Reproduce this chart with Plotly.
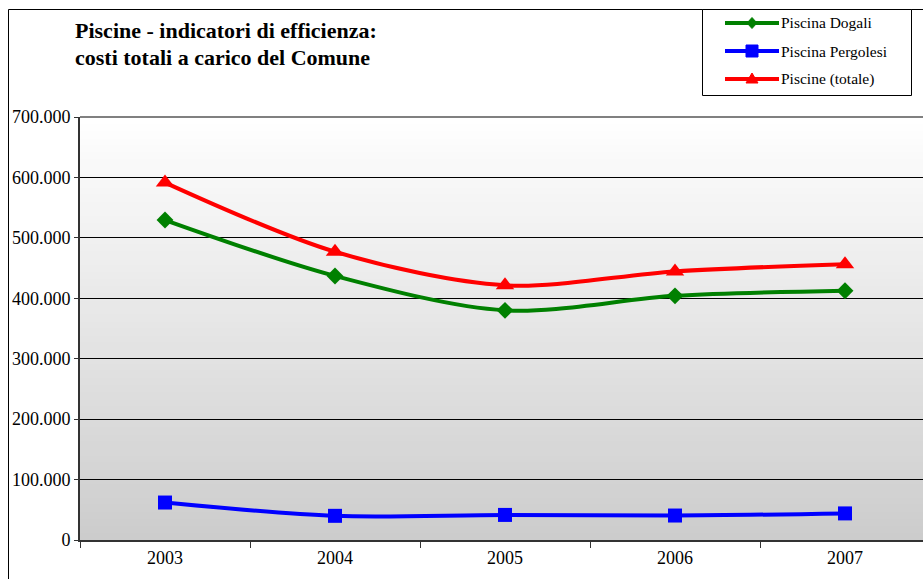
import plotly.graph_objects as go

# ---- data -------------------------------------------------------------
years = ["2003", "2004", "2005", "2006", "2007"]
dogali = [529500, 437000, 380000, 404000, 412500]
pergolesi = [62000, 40000, 41500, 40500, 44000]
totale = [591500, 477000, 421500, 444500, 456500]

series_names = ["Piscina Dogali", "Piscina Pergolesi", "Piscine (totale)"]
series_colors = ["#008000", "#0000FF", "#FF0000"]
series_symbols = ["diamond", "square", "triangle-up"]
series_sizes = [13, 14, 16]

y_ticks = [0, 100000, 200000, 300000, 400000, 500000, 600000, 700000]

# ---- geometry (pixels) ------------------------------------------------
W, H = 923, 579
L, T, B = 80, 117, 540          # plot area left / top / bottom in pixels
R = W                            # plot area runs off the right edge
CAT_W = 170                      # width of one category slot


def px(x):
    return (x - L) / (R - L)


def py(y):
    return (B - y) / (B - T)


FONT = "Liberation Serif, Times New Roman, serif"
AXIS_SIZE = 18
x_idx = list(range(len(years)))

fig = go.Figure()

for name, vals, col, sym, size in zip(series_names, [dogali, pergolesi, totale],
                                      series_colors, series_symbols, series_sizes):
    fig.add_trace(go.Scatter(
        x=x_idx, y=vals, name=name, mode="lines+markers",
        line=dict(color=col, width=4, shape="spline", smoothing=0.9),
        marker=dict(symbol=sym, size=size, color=col),
        showlegend=False,
    ))

shapes = []

# vertical grey gradient behind the grid
n_bands = 60
y_top = y_ticks[-1]
for i in range(n_bands):
    y0 = y_top * i / n_bands
    y1 = y_top * (i + 1) / n_bands + y_top * 0.002
    frac = (i + 0.5) / n_bands
    g = round(204 + (255 - 204) * frac)
    shapes.append(dict(type="rect", xref="paper", yref="y", x0=0, x1=1,
                       y0=y0, y1=min(y1, y_top), layer="below",
                       fillcolor=f"rgb({g},{g},{g})", line=dict(width=0)))

# top edge of the plot area
shapes.append(dict(type="line", xref="paper", yref="paper", x0=0, x1=1,
                   y0=1, y1=1, line=dict(color="#808080", width=2)))

# outer chart frame
shapes.append(dict(type="rect", xref="paper", yref="paper",
                   x0=px(8.5), x1=px(960), y0=py(9.5), y1=py(620),
                   line=dict(color="black", width=1), layer="above"))

# legend box
shapes.append(dict(type="rect", xref="paper", yref="paper",
                   x0=px(702.5), x1=px(911.5), y0=py(9.5), y1=py(95.5),
                   fillcolor="white", line=dict(color="black", width=1),
                   layer="above"))

annotations = []
leg_rows = [23, 51, 79]
lx0, lx1 = 725, 779
for name, col, sym, yrow in zip(series_names, series_colors, series_symbols, leg_rows):
    shapes.append(dict(type="line", xref="paper", yref="paper",
                       x0=px(lx0), x1=px(lx1), y0=py(yrow), y1=py(yrow),
                       line=dict(color=col, width=4), layer="above"))
    cx = (lx0 + lx1) / 2
    if sym == "diamond":
        pts = [(cx, yrow - 5.5), (cx + 5, yrow), (cx, yrow + 5.5), (cx - 5, yrow)]
    elif sym == "square":
        pts = [(cx - 6, yrow - 6), (cx + 6, yrow - 6), (cx + 6, yrow + 6), (cx - 6, yrow + 6)]
    else:
        pts = [(cx, yrow - 6), (cx + 6, yrow + 4), (cx - 6, yrow + 4)]
    path = "M " + " L ".join(f"{px(a)},{py(b)}" for a, b in pts) + " Z"
    shapes.append(dict(type="path", xref="paper", yref="paper", path=path,
                       fillcolor=col, line=dict(color=col, width=1), layer="above"))
    annotations.append(dict(text=name, xref="paper", yref="paper",
                            x=px(779), y=py(yrow), xanchor="left", yanchor="middle",
                            showarrow=False, font=dict(family=FONT, size=15.5, color="black")))

# title, two lines
for txt, yc in [("Piscine - indicatori di efficienza:", 30),
                ("costi totali a carico del Comune", 57)]:
    annotations.append(dict(text=f"<b>{txt}</b>", xref="paper", yref="paper",
                            x=px(73), y=py(yc), xanchor="left", yanchor="middle",
                            showarrow=False, font=dict(family=FONT, size=22, color="black")))

x_right = -0.5 + (R - L) / CAT_W

fig.update_layout(
    width=W, height=H,
    margin=dict(l=L, r=W - R, t=T, b=H - B, pad=0),
    paper_bgcolor="white", plot_bgcolor="white",
    separators=",.",
    showlegend=False,
    shapes=shapes, annotations=annotations,
    font=dict(family=FONT, size=AXIS_SIZE, color="black"),
    xaxis=dict(range=[-0.5, x_right], tickmode="array", tickvals=x_idx,
               ticktext=years, ticks="", showgrid=False, zeroline=False,
               showline=True, linecolor="#333333", linewidth=2,
               tickfont=dict(family=FONT, size=AXIS_SIZE, color="black"),
               minor=dict(tick0=0.5, dtick=1, ticks="outside", ticklen=6,
                          tickcolor="#333333", tickwidth=1, showgrid=False),
               fixedrange=True),
    yaxis=dict(range=[0, y_top], tickmode="array", tickvals=y_ticks,
               tickformat=",.0f", ticks="outside", ticklen=4,
               tickcolor="#333333", showgrid=True, gridcolor="black",
               gridwidth=1, zeroline=False, showline=True,
               linecolor="#333333", linewidth=2,
               tickfont=dict(family=FONT, size=AXIS_SIZE, color="black"),
               fixedrange=True),
)

fig.write_html("out.html")
